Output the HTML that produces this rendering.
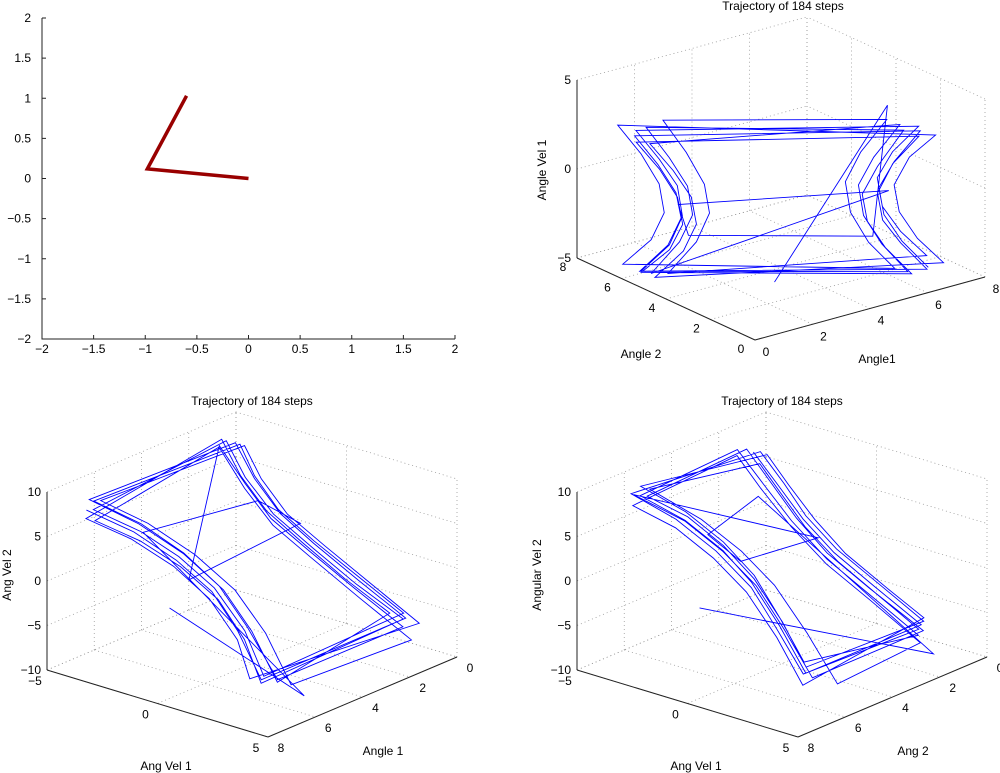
<!DOCTYPE html>
<html><head><meta charset="utf-8"><style>
html,body{margin:0;padding:0;background:#fff;}
svg{display:block;font-family:"Liberation Sans",Arial,sans-serif;}
</style></head><body>
<svg id="fig" width="1000" height="773" viewBox="0 0 1000 773"></svg>
<script>
// ----- data -----
const pendX=[0,-0.98,-0.6];
const pendY=[0,0.12,1.03];
const tl_xTicks=[-2,-1.5,-1,-0.5,0,0.5,1,1.5,2];
const tl_yTicks=[-2,-1.5,-1,-0.5,0,0.5,1,1.5,2];

const angle1=[6.8,6.2,5.8,5.7,6.0,6.6, 0.3,0.8,1.2,1.3,1.0,0.4, 6.4,5.8,5.4,5.3,5.6,6.2, 0.6,1.1,1.5,1.6,1.3,0.7,
 7.1,6.5,6.1,6.0,6.3,6.9, 0.1,0.6,1.0,1.1,0.8,0.2, 6.1,5.5,5.1,5.0,5.3,5.9, 0.9,1.4,1.8,1.9,1.6,1.0,
 6.9,6.3,5.9,5.8,6.1,6.7, 0.5,1.0,1.4,1.5,1.2,0.6, 6.6,6.0,5.6,5.5,5.8,6.4, 0.2,0.7,1.1,1.2,0.9,0.3,
 6.3,5.7,5.3,5.2,5.5,6.1, 0.7,1.2,1.6,1.7,1.4,0.8, 6.2,1.2,1.4,5.8,6.0,3.0];
const angle2=[1.0,1.4,1.7,1.8,1.5,1.1, 5.8,5.4,5.1,5.0,5.2,5.7, 1.4,1.8,2.1,2.2,1.9,1.5, 5.5,5.1,4.8,4.7,4.9,5.4,
 0.7,1.1,1.4,1.5,1.2,0.8, 6.3,5.9,5.6,5.5,5.7,6.2, 1.6,2.0,2.3,2.4,2.1,1.7, 5.3,4.9,4.6,4.5,4.7,5.2,
 1.2,1.6,1.9,2.0,1.7,1.3, 6.0,5.6,5.3,5.2,5.4,5.9, 0.8,1.2,1.5,1.6,1.3,0.9, 5.6,5.2,4.9,4.8,5.0,5.5,
 1.1,1.5,1.8,1.9,1.6,1.2, 5.8,5.4,5.1,5.0,5.2,5.7, 2.0,5.0,4.8,2.2,1.8,3.0];
const angVel1=[-4.5,-3.0,-1.5,0.0,1.5,3.2, 3.0,1.4,-0.2,-1.6,-3.1,-4.6, -4.8,-3.2,-1.6,0.1,1.7,3.5, 2.6,1.1,-0.4,-1.9,-3.4,-4.9,
 -4.2,-2.8,-1.3,0.2,1.8,3.0, 3.4,1.8,0.1,-1.5,-3.0,-4.4, -4.6,-3.1,-1.4,0.3,2.0,3.8, 3.9,2.1,0.3,-1.3,-2.9,-4.7,
 -4.0,-2.6,-1.2,0.4,1.9,3.3, 3.1,1.5,0.0,-1.7,-3.3,-4.8, -4.4,-2.9,-1.6,-0.1,1.6,3.1, 2.8,1.3,-0.3,-1.8,-3.2,-4.5,
 -4.7,-3.2,-1.7,-0.2,1.4,3.4, 3.3,1.6,0.0,-1.6,-3.1,-4.9, -0.5,-0.8,-2.5,-3.0,4.5,-4.8];
const angVel2=[7.0,5.0,2.5,0.0,-3.0,-6.5, -6.8,-3.2,0.2,2.6,5.1,7.3, 7.5,5.3,2.7,-0.2,-3.3,-7.0, -6.2,-2.9,0.5,3.0,5.5,7.8,
 6.6,4.7,2.3,-0.3,-3.4,-6.2, -7.3,-3.6,-0.1,2.4,4.9,6.9, 7.2,5.1,2.4,-0.4,-3.6,-7.4, -7.9,-4.0,-0.3,2.2,4.8,7.4,
 6.3,4.4,2.1,-0.5,-3.5,-6.7, -6.6,-3.3,0.0,2.7,5.3,7.6, 6.9,4.9,2.6,0.1,-3.1,-6.4, -6.5,-3.0,0.3,2.8,5.2,7.1,
 7.3,5.2,2.6,-0.1,-3.2,-6.9, -7.1,-3.4,0.0,2.5,5.0,7.2, 1.5,2.0,3.5,4.5,-8.0,-8.5];

const angTicks=[0,2,4,6,8];
const vel1Ticks3=[-5,0,5];
const velTicksWide=[-5,0,5];
const vel2Ticks=[-10,-5,0,5,10];

const NS="http://www.w3.org/2000/svg";
const svg=document.getElementById('fig');
function el(tag,attrs,parent){const e=document.createElementNS(NS,tag);for(const k in attrs)e.setAttribute(k,attrs[k]);(parent||svg).appendChild(e);return e;}
function txt(s,x,y,anchor,parent,extra){const t=el('text',Object.assign({x:x,y:y,'font-size':12,'text-anchor':anchor||'middle',fill:'#000'},extra||{}),parent);t.textContent=s;return t;}

// ----- top-left 2D plot -----
(function(){
  const g=el('g',{});
  
  
  const L=42,R=455,T=18,B=339;
  const sx=v=>L+(v+2)/4*(R-L), sy=v=>B-(v+2)/4*(B-T);
  const ax=el('path',{d:`M${L},${T}V${B}H${R}`,stroke:'#222',fill:'none','stroke-width':1},g);
  
  
  tl_xTicks.forEach(t=>{
    el('line',{x1:sx(t),x2:sx(t),y1:B,y2:B-4,stroke:'#222'},g);
    const l=txt(String(t).replace('-','\u2212'),sx(t),353,'middle',g);
    
    
  });
  tl_yTicks.forEach(t=>{
    el('line',{x1:L,x2:L+4,y1:sy(t),y2:sy(t),stroke:'#222'},g);
    const l=txt(String(t).replace('-','\u2212'),31,sy(t)+4,'end',g);
    
    
  });
  const pts=pendX.map((x,i)=>sx(x)+','+sy(pendY[i])).join(' ');
  const p=el('polyline',{points:pts,fill:'none',stroke:'#990000','stroke-width':3.5,'stroke-linejoin':'miter'},g);
  
  
})();

// ----- 3D plots -----
function plot3d(c){
  const g=el('g',{});
  
  
  const P=(nx,ny,nz)=>[c.base[0]+nx*c.ex[0]+ny*c.ey[0]+nz*c.ez[0], c.base[1]+nx*c.ex[1]+ny*c.ey[1]+nz*c.ez[1]];
  const n=(v,r)=>(v-r[0])/(r[1]-r[0]);
  const line=(a,b,attrs)=>el('line',Object.assign({x1:a[0],y1:a[1],x2:b[0],y2:b[1]},attrs),g);
  const dot={stroke:'#9a9a9a','stroke-width':0.8,'stroke-dasharray':'1,3'};
  const bx=c.backX, by=c.backY;
  c.xTicks.forEach(t=>{const v=n(t,c.xr);line(P(v,0,0),P(v,1,0),dot);line(P(v,by,0),P(v,by,1),dot);});
  c.yTicks.forEach(t=>{const v=n(t,c.yr);line(P(0,v,0),P(1,v,0),dot);line(P(bx,v,0),P(bx,v,1),dot);});
  c.zTicks.forEach(t=>{const v=n(t,c.zr);line(P(0,by,v),P(1,by,v),dot);line(P(bx,0,v),P(bx,1,v),dot);});
  const solid={stroke:'#222','stroke-width':1};
  const xa=line(P(0,1-by,0),P(1,1-by,0),solid);
  
  
  const ya=line(P(1-bx,0,0),P(1-bx,1,0),solid);
  
  
  const za=line(P(c.zc[0],c.zc[1],0),P(c.zc[0],c.zc[1],1),solid);
  
  
  c.xTicks.forEach(t=>{const p=P(n(t,c.xr),1-by,0);const l=txt(String(t).replace('-','\u2212'),p[0]+c.xOff[0],p[1]+c.xOff[1]+4,'middle',g);
    
    });
  c.yTicks.forEach(t=>{const p=P(1-bx,n(t,c.yr),0);const l=txt(String(t).replace('-','\u2212'),p[0]+c.yOff[0],p[1]+c.yOff[1]+4,'middle',g);
    
    });
  c.zTicks.forEach(t=>{const p=P(c.zc[0],c.zc[1],n(t,c.zr));const l=txt(String(t).replace('-','\u2212'),p[0]-6,p[1]+4,'end',g);
    
    });
  const pts=c.xs.map((x,i)=>P(n(x,c.xr),n(c.ys[i],c.yr),n(c.zs[i],c.zr)).join(',')).join(' ');
  const tr=el('polyline',{points:pts,fill:'none',stroke:'#0000ff','stroke-width':0.9,'stroke-linejoin':'miter'},g);
  
  
  const tt=txt('Trajectory of 184 steps',c.title[0],c.title[1],'middle',g);
  
  
  const xl=txt(c.xLabel[0],c.xLabel[1],c.xLabel[2],'middle',g);
  
  
  const yl=txt(c.yLabel[0],c.yLabel[1],c.yLabel[2],'middle',g);
  
  
  const zl=txt(c.zLabel[0],0,0,'middle',g,{transform:`translate(${c.zLabel[1]},${c.zLabel[2]}) rotate(-90)`});
  
  
}

plot3d({name:'angles-vel1-plot',base:[755,340],ex:[230,-63],ey:[-178,-82],ez:[0,-178],
  xr:[0,8],yr:[0,8],zr:[-5,5],backX:1,backY:1,zc:[0,1],
  xTicks:angTicks,yTicks:angTicks,zTicks:vel1Ticks3,xOff:[11,12],yOff:[-14,9],
  xs:angle1,ys:angle2,zs:angVel1,title:[783,10],
  xLabel:['Angle1',877,363],yLabel:['Angle 2',641,358],zLabel:['Angle Vel 1',546,170]});

plot3d({name:'vel1-angle1-vel2-plot',base:[236,590],ex:[221,67],ey:[-189,80],ez:[0,-178],
  xr:[-5,5],yr:[0,8],zr:[-10,10],backX:0,backY:0,zc:[0,1],
  xTicks:velTicksWide,yTicks:angTicks,zTicks:vel2Ticks,xOff:[-12,11],yOff:[13,11],
  xs:angVel1,ys:angle1,zs:angVel2,title:[252,405],
  xLabel:['Ang Vel 1',166,770],yLabel:['Angle 1',383,755],zLabel:['Ang Vel 2',11,575]});

plot3d({name:'vel1-angle2-vel2-plot',base:[766,590],ex:[221,67],ey:[-189,80],ez:[0,-178],
  xr:[-5,5],yr:[0,8],zr:[-10,10],backX:0,backY:0,zc:[0,1],
  xTicks:velTicksWide,yTicks:angTicks,zTicks:vel2Ticks,xOff:[-12,11],yOff:[13,11],
  xs:angVel1,ys:angle2,zs:angVel2,title:[782,405],
  xLabel:['Ang Vel 1',696,770],yLabel:['Ang 2',913,755],zLabel:['Angular Vel 2',541,575]});
</script>
</body></html>
